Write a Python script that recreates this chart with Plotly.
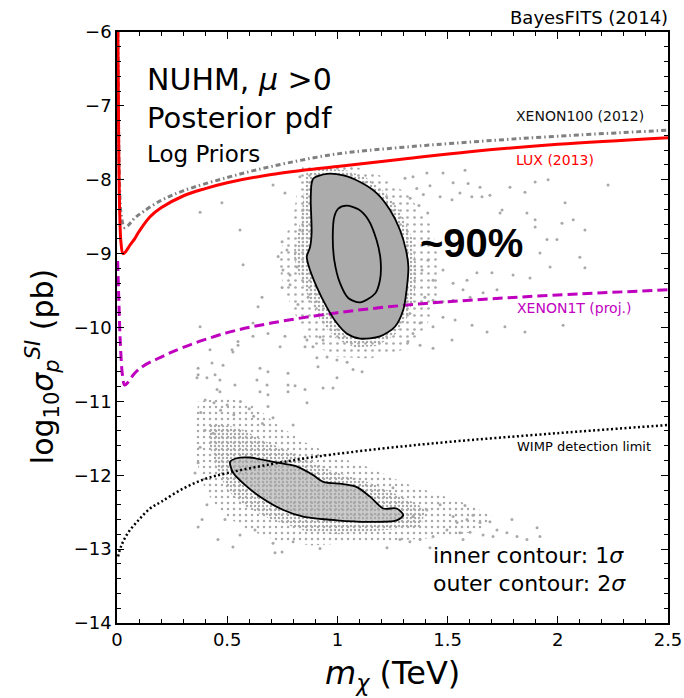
import plotly.graph_objects as go

# ---------------- data ----------------
lux_m = [0.004, 0.006, 0.008, 0.012, 0.018, 0.027, 0.04, 0.06, 0.08, 0.1, 0.15, 0.2, 0.3, 0.4, 0.5, 0.7, 1.0, 1.3, 1.6, 2.0, 2.5]
lux_y = [-6.0, -6.8, -7.6, -8.4, -8.85, -9.0, -8.97, -8.88, -8.8, -8.7, -8.5, -8.38, -8.22, -8.12, -8.04, -7.93, -7.82, -7.72, -7.62, -7.52, -7.43]

x100_m = [0.004, 0.007, 0.012, 0.02, 0.035, 0.05, 0.08, 0.12, 0.2, 0.3, 0.5, 0.7, 1.0, 1.3, 1.6, 2.0, 2.5]
x100_y = [-6.0, -7.2, -8.1, -8.5, -8.65, -8.62, -8.52, -8.43, -8.28, -8.15, -7.97, -7.82, -7.65, -7.56, -7.49, -7.41, -7.33]

x1t_m = [0.003, 0.008, 0.015, 0.025, 0.035, 0.05, 0.08, 0.12, 0.2, 0.3, 0.5, 0.7, 1.0, 1.3, 1.6, 2.0, 2.5]
x1t_y = [-9.1, -9.6, -10.2, -10.65, -10.78, -10.74, -10.62, -10.52, -10.4, -10.27, -10.07, -9.94, -9.8, -9.7, -9.63, -9.56, -9.49]

wimp_m = [0.005, 0.02, 0.05, 0.1, 0.15, 0.2, 0.3, 0.4, 0.5, 0.7, 0.9, 1.2, 1.5, 2.0, 2.5]
wimp_y = [-13.1, -12.95, -12.78, -12.6, -12.45, -12.36, -12.18, -12.05, -11.97, -11.85, -11.75, -11.64, -11.55, -11.43, -11.32]

# upper cluster contours
up2_m = [0.891, 0.951, 1.027, 1.103, 1.178, 1.239, 1.284, 1.311, 1.322, 1.314, 1.299, 1.261, 1.193, 1.103, 1.042, 0.997, 0.951, 0.906, 0.868, 0.861, 0.876, 0.883, 0.879, 0.883]
up2_y = [-7.98, -7.92, -7.94, -8.03, -8.18, -8.41, -8.68, -8.95, -9.18, -9.49, -9.76, -9.99, -10.12, -10.15, -10.08, -9.94, -9.72, -9.45, -9.15, -9.04, -8.91, -8.72, -8.27, -8.05]
up1_m = [1.004, 1.042, 1.095, 1.140, 1.178, 1.196, 1.193, 1.171, 1.103, 1.049, 1.012, 0.986, 0.979, 0.986]
up1_y = [-8.39, -8.35, -8.40, -8.54, -8.82, -9.09, -9.36, -9.54, -9.66, -9.60, -9.40, -9.09, -8.77, -8.50]

# lower cluster contour
lo2_m = [0.513, 0.543, 0.603, 0.709, 0.815, 0.891, 0.936, 1.027, 1.088, 1.148, 1.208, 1.269, 1.299, 1.269, 1.133, 0.997, 0.845, 0.755, 0.649, 0.573, 0.528]
lo2_y = [-11.82, -11.77, -11.76, -11.82, -11.88, -12.00, -12.09, -12.12, -12.16, -12.29, -12.45, -12.45, -12.54, -12.61, -12.63, -12.61, -12.56, -12.47, -12.29, -12.11, -11.97]

# extents of the point clouds (dense halo regions)
up_halo_out_m = [0.84, 0.95, 1.08, 1.2, 1.32, 1.42, 1.47, 1.46, 1.4, 1.3, 1.15, 1.0, 0.9, 0.82, 0.76, 0.73, 0.76, 0.8, 0.82]
up_halo_out_y = [-7.82, -7.78, -7.82, -7.95, -8.2, -8.6, -9.1, -9.6, -10.0, -10.3, -10.42, -10.4, -10.25, -9.9, -9.5, -9.1, -8.8, -8.5, -8.1]
up_halo_in_m = [0.86, 0.95, 1.04, 1.13, 1.22, 1.29, 1.34, 1.36, 1.35, 1.32, 1.26, 1.18, 1.08, 1.0, 0.93, 0.87, 0.82, 0.8, 0.82, 0.84, 0.85]
up_halo_in_y = [-7.9, -7.85, -7.87, -7.97, -8.18, -8.45, -8.8, -9.2, -9.55, -9.85, -10.1, -10.25, -10.27, -10.17, -9.95, -9.6, -9.25, -9.0, -8.75, -8.4, -8.1]
lo_halo_out_m = [0.37, 0.5, 0.62, 0.72, 0.85, 1.0, 1.15, 1.3, 1.45, 1.6, 1.7, 1.65, 1.45, 1.25, 1.05, 0.88, 0.72, 0.58, 0.47, 0.4, 0.36, 0.35]
lo_halo_out_y = [-11.0, -10.95, -11.05, -11.3, -11.55, -11.75, -11.9, -12.1, -12.25, -12.4, -12.55, -12.75, -12.85, -12.88, -12.92, -12.95, -12.88, -12.72, -12.5, -12.2, -11.8, -11.35]
lo_halo_in_m = [0.42, 0.55, 0.68, 0.82, 0.98, 1.15, 1.3, 1.4, 1.38, 1.2, 1.0, 0.85, 0.7, 0.58, 0.5, 0.45, 0.42]
lo_halo_in_y = [-11.3, -11.35, -11.55, -11.72, -11.95, -12.1, -12.3, -12.45, -12.7, -12.75, -12.8, -12.75, -12.6, -12.42, -12.2, -11.9, -11.6]

# sparse individual points
pts_m = [1.307, 1.343, 1.406, 1.479, 1.525, 1.579, 1.593, 1.647, 1.466, 1.52, 1.556, 1.61, 1.656, 1.692, 1.738, 1.783, 1.851, 1.897, 1.956, 2.033, 2.07, 2.123, 2.228, 1.897, 2.019, 1.951, 1.996, 1.86, 1.747, 1.897, 2.123, 1.965, 1.874, 1.797, 1.701, 1.633, 1.588, 1.525, 1.479, 1.434, 1.411, 1.384, 1.724, 1.661, 1.602, 1.57, 1.525, 1.479, 1.434, 1.397, 2.024, 1.851, 1.76, 1.679, 1.611, 1.534, 1.479, 1.434, 1.375, 1.343, 1.329, 1.52, 1.434, 1.375, 1.32, 1.919, 2.10,
         1.36, 1.33, 1.39, 1.42, 1.37, 1.41,
         0.708, 0.83, 0.558, 0.572, 0.749, 0.771, 0.731, 0.753, 0.785, 0.749, 0.658, 0.64, 0.785, 0.817, 0.83, 0.844, 0.867, 0.821, 0.617, 0.685, 0.549, 0.526, 0.74, 0.862, 0.921, 0.889, 0.476, 0.377, 0.762, 0.377, 0.422, 0.368, 0.363,
         0.762, 0.853, 0.617, 0.431, 0.522, 0.549, 0.481, 0.649, 0.685, 0.776, 0.368, 0.408, 0.445, 0.467, 0.535, 0.635, 0.776, 0.808, 0.681, 0.454, 0.467, 0.776, 0.649, 0.853, 0.862, 0.685, 0.907, 0.953, 0.912, 0.998, 1.044, 0.998, 0.98, 0.935, 1.071, 1.112, 0.935, 0.853, 0.799, 0.685, 0.708,
         0.40, 0.44, 0.50, 0.56, 0.60, 0.38, 0.47, 0.53, 0.62, 0.66,
         0.386, 0.368, 0.458, 0.526, 0.717, 0.558, 0.408, 0.354, 0.377, 0.436, 0.399, 0.368, 0.49, 0.626, 0.708, 0.749, 0.921, 0.799,
         1.466, 1.579, 1.615, 1.647, 1.692, 1.724, 1.769, 1.815, 1.86, 1.906, 1.919, 1.792, 1.525, 1.497, 1.556, 1.602, 1.434, 1.375, 1.329, 1.284, 1.252, 1.406, 1.343, 1.661, 1.706, 1.57, 1.225, 1.42, 1.588, 1.543]
pts_y = [-7.98, -7.96, -7.91, -7.91, -8.04, -7.87, -8.05, -8.10, -8.23, -8.27, -8.18, -8.23, -8.23, -8.21, -8.45, -8.10, -8.17, -8.03, -8.00, -8.31, -8.54, -8.68, -8.07, -8.64, -8.59, -8.81, -8.81, -8.45, -8.41, -8.54, -9.19, -9.18, -9.33, -9.29, -9.26, -9.26, -9.36, -9.40, -9.22, -9.36, -9.09, -9.22, -9.49, -9.53, -9.59, -9.49, -9.63, -9.65, -9.63, -9.59, -9.97, -10.06, -9.99, -10.06, -9.97, -9.90, -9.86, -9.99, -9.94, -10.08, -9.81, -10.17, -10.28, -10.24, -10.19, -8.99, -9.05,
         -8.12, -8.25, -8.2, -8.08, -8.35, -8.45,
         -8.07, -7.96, -8.68, -9.15, -8.84, -8.95, -9.04, -9.22, -9.29, -9.46, -9.59, -9.72, -9.42, -9.18, -8.68, -8.41, -9.59, -9.69, -9.94, -10.08, -10.19, -10.33, -10.26, -10.17, -10.13, -10.26, -8.31, -8.44, -8.18, -9.99, -10.30, -10.55, -10.68,
         -10.12, -10.26, -10.12, -10.48, -10.30, -10.24, -10.51, -10.55, -10.60, -10.62, -10.64, -10.68, -10.64, -10.71, -10.78, -10.71, -10.78, -10.79, -10.78, -10.84, -10.87, -10.87, -10.87, -10.84, -11.02, -10.91, -10.41, -10.40, -10.53, -10.44, -10.47, -10.68, -10.82, -10.82, -10.57, -10.60, -10.17, -10.13, -11.32, -11.07, -11.22,
         -10.98, -11.02, -11.05, -11.0, -11.1, -11.15, -11.12, -11.18, -11.2, -11.3,
         -12.60, -12.70, -12.87, -12.97, -13.05, -12.81, -12.40, -11.97, -11.62, -11.43, -11.39, -11.83, -12.60, -12.74, -12.92, -13.04, -12.99, -12.90,
         -12.40, -12.41, -12.54, -12.64, -12.63, -12.74, -12.78, -12.83, -12.87, -12.71, -12.83, -12.60, -12.56, -12.74, -12.78, -12.77, -12.83, -12.87, -12.90, -12.87, -12.17, -12.47, -12.56, -12.81, -12.83, -12.87, -12.98, -12.98, -12.60, -12.64]

y_tickvals = [-14, -13, -12, -11, -10, -9, -8, -7, -6]
y_ticktext = ["−14", "−13", "−12", "−11", "−10", "−9", "−8", "−7", "−6"]
x_tickvals = [0, 0.5, 1, 1.5, 2, 2.5]
x_ticktext = ["0", "0.5", "1", "1.5", "2", "2.5"]

FONT = "DejaVu Sans"
GRAY = "#a9a9a9"


def closed(a):
    return list(a) + [a[0]]


fig = go.Figure()

# cloud halos drawn as dotted textures
for hm, hy, cell, sol in [(up_halo_out_m, up_halo_out_y, 7, 0.12), (up_halo_in_m, up_halo_in_y, 4, 0.3),
                          (lo_halo_out_m, lo_halo_out_y, 6, 0.14), (lo_halo_in_m, lo_halo_in_y, 4, 0.3)]:
    fig.add_trace(go.Scatter(x=closed(hm), y=closed(hy), mode="lines", fill="toself",
                             fillcolor="rgba(0,0,0,0)",
                             fillpattern=dict(shape=".", size=cell, solidity=sol, fgcolor=GRAY,
                                              bgcolor="rgba(0,0,0,0)", fgopacity=1),
                             line=dict(width=0), hoverinfo="skip", showlegend=False))

# sparse points
fig.add_trace(go.Scatter(x=pts_m, y=pts_y, mode="markers",
                         marker=dict(size=3, color=GRAY, line=dict(width=0)),
                         showlegend=False))

# dense cores
fig.add_trace(go.Scatter(x=closed(up2_m), y=closed(up2_y), mode="lines", fill="toself",
                         fillcolor="#ababab", line=dict(width=0, shape="spline", smoothing=0.8), showlegend=False))
fig.add_trace(go.Scatter(x=closed(lo2_m), y=closed(lo2_y), mode="lines", fill="toself",
                         fillcolor="rgba(169,169,169,0.6)", line=dict(width=0, shape="spline", smoothing=0.8), showlegend=False))

# limit curves
fig.add_trace(go.Scatter(x=wimp_m, y=wimp_y, mode="lines", line=dict(color="black", width=2.5, dash="2px,2.5px", shape="spline"), showlegend=False))
fig.add_trace(go.Scatter(x=x1t_m, y=x1t_y, mode="lines", line=dict(color="#bf00bf", width=3, dash="10px,5px", shape="spline"), showlegend=False))
fig.add_trace(go.Scatter(x=x100_m, y=x100_y, mode="lines", line=dict(color="#808080", width=3, dash="5px,3px,1.5px,3px", shape="spline"), showlegend=False))
fig.add_trace(go.Scatter(x=lux_m, y=lux_y, mode="lines", line=dict(color="red", width=3, shape="spline"), showlegend=False))

# contours
for cm, cy in [(up2_m, up2_y), (up1_m, up1_y), (lo2_m, lo2_y)]:
    fig.add_trace(go.Scatter(x=closed(cm), y=closed(cy), mode="lines",
                             line=dict(color="black", width=1.8, shape="spline", smoothing=0.8),
                             showlegend=False))

ann = []
def txt(x, y, s, size, color="black", xanchor="left", xref="x", yref="y", angle=0, family=FONT):
    ann.append(dict(x=x, y=y, xref=xref, yref=yref, text=s, showarrow=False, xanchor=xanchor,
                    yanchor="middle", textangle=angle, font=dict(family=family, size=size, color=color)))

txt(0.127, -6.643, "NUHM, <i>μ</i> >0", 30)
txt(0.127, -7.164, "Posterior pdf", 29)
txt(0.127, -7.658, "Log Priors", 23)
txt(1.801, -7.143, "XENON100 (2012)", 14, "#111111")
txt(1.801, -7.732, "LUX (2013)", 14, "red")
txt(1.806, -9.735, "XENON1T (proj.)", 14, "#bf00bf")
txt(1.806, -11.616, "WIMP detection limit", 13, "black")
txt(1.366, -8.85, "<b>~90%</b>", 40, family="Liberation Sans")
txt(1.425, -13.09, "inner contour: 1<i>σ</i>", 22)
txt(1.425, -13.47, "outer contour: 2<i>σ</i>", 22)
txt(1.0036, 1.0245, "BayesFITS (2014)", 18, xanchor="right", xref="paper", yref="paper")
txt(0.5, -0.088, "<i>m</i><sub><i>χ</i></sub> (TeV)", 32, xanchor="center", xref="paper", yref="paper")
txt(-0.136, 0.433, "log<sub>10</sub><i>σ</i><sub><i>p</i></sub><sup><i>SI</i></sup> (pb)", 30, xanchor="center", xref="paper", yref="paper", angle=-90)

axis_common = dict(showline=True, linecolor="black", linewidth=1.5, mirror="ticks", ticks="inside",
                   ticklen=7, tickwidth=1.2, tickcolor="black", showgrid=False, zeroline=False,
                   automargin=False, tickfont=dict(family=FONT, size=18, color="black"))

fig.update_layout(
    width=684, height=698, margin=dict(l=117, r=16, t=32, b=75),
    paper_bgcolor="white", plot_bgcolor="white",
    xaxis=dict(range=[0, 2.5], tickvals=x_tickvals, ticktext=x_ticktext,
               minor=dict(dtick=0.1, ticks="inside", ticklen=4, tickcolor="black", tickwidth=1), **axis_common),
    yaxis=dict(range=[-14, -6], tickvals=y_tickvals, ticktext=y_ticktext,
               minor=dict(dtick=0.2, ticks="inside", ticklen=4, tickcolor="black", tickwidth=1), **axis_common),
    annotations=ann, showlegend=False,
)

fig.write_html("out.html")
